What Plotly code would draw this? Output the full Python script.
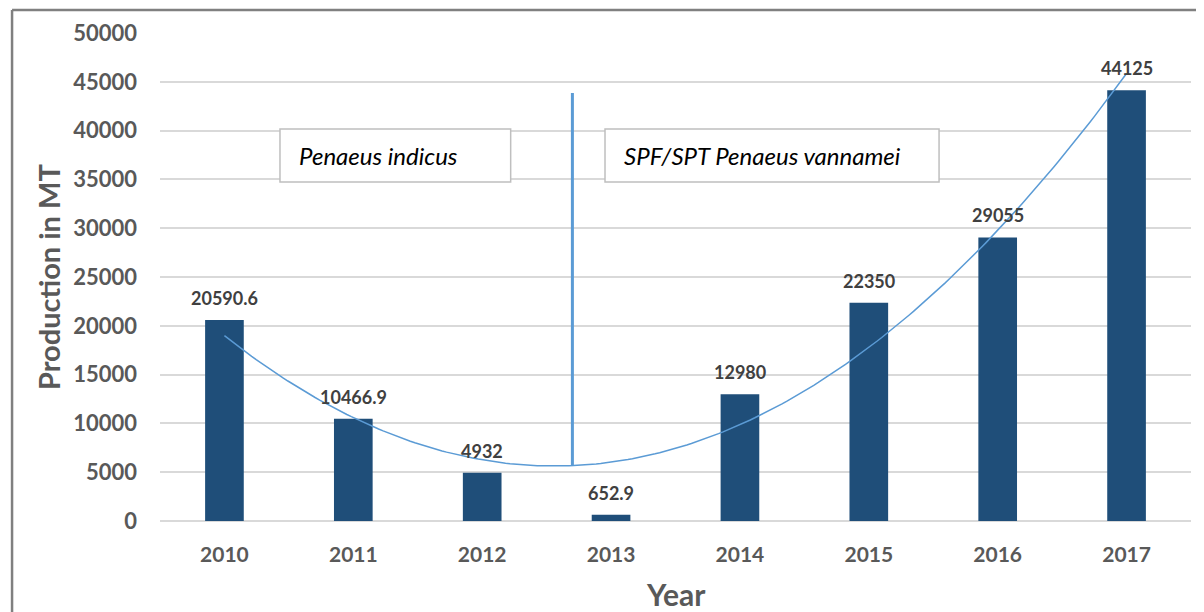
import numpy as np
import plotly.graph_objects as go

years = [2010, 2011, 2012, 2013, 2014, 2015, 2016, 2017]
production = [20590.6, 10466.9, 4932, 652.9, 12980, 22350, 29055, 44125]
labels = ["20590.6", "10466.9", "4932", "652.9", "12980", "22350", "29055", "44125"]
y_ticks = [0, 5000, 10000, 15000, 20000, 25000, 30000, 35000, 40000, 45000, 50000]
box_texts = ["Penaeus indicus", "SPF/SPT Penaeus vannamei"]

BAR = "#1F4E79"
TREND = "#5B9BD5"
GRID = "#D9D9D9"
TXT = "#595959"
FONT = "Lato"

# order-2 polynomial trendline (as Excel does) fitted to the data
xi = np.arange(len(years))
coef = np.polyfit(xi, production, 2)
xs = np.linspace(0, len(years) - 1, 200)
trend_y = np.polyval(coef, xs)
trend_x = years[0] + xs

fig = go.Figure()
fig.add_trace(go.Bar(x=years, y=production, width=0.30,
                     marker=dict(color=BAR, line=dict(width=0)),
                     hoverinfo="x+y"))
fig.add_trace(go.Scatter(x=trend_x, y=trend_y, mode="lines",
                         line=dict(color=TREND, width=1.5), hoverinfo="skip"))

# data labels
for yr, v, t in zip(years, production, labels):
    fig.add_annotation(x=yr, y=v, text=t, showarrow=False, yshift=22,
                       font=dict(family=FONT, size=18, color="#404040", weight="bold"))

# divider line between the two species
split_x = 2012.7
split_bottom = float(np.polyval(coef, split_x - years[0]))
fig.add_shape(type="line", xref="x", yref="y", x0=split_x, x1=split_x,
              y0=split_bottom, y1=43850, line=dict(color=TREND, width=3))

# text boxes
boxes = [(2010.431, 2012.221), (2012.953, 2015.545)]
for (bx0, bx1), t in zip(boxes, box_texts):
    fig.add_shape(type="rect", xref="x", yref="y", x0=bx0, x1=bx1, y0=34730, y1=40160,
                  line=dict(color="#BFBFBF", width=1.5), fillcolor="white", layer="above")
    fig.add_annotation(x=bx0 + 0.13, y=37450, text="<i>" + t + "</i>", showarrow=False,
                       xanchor="left", yanchor="middle",
                       font=dict(family=FONT, size=24, color="#000000"))

# axis titles
fig.add_annotation(xref="paper", yref="paper", x=-0.1086, y=0.5, text="<b>Production in MT</b>",
                   textangle=-90, showarrow=False, xanchor="center", yanchor="middle",
                   font=dict(family=FONT, size=29, color=TXT))
fig.add_annotation(xref="paper", yref="paper", x=0.5, y=-0.1496, text="<b>Year</b>",
                   showarrow=False, xanchor="center", yanchor="middle",
                   font=dict(family=FONT, size=30, color=TXT))

# outer frame (top and left)
fig.add_shape(type="line", xref="paper", yref="paper", x0=-0.1435, x1=1.05, y0=1.047, y1=1.047,
              line=dict(color="#808080", width=2.5))
fig.add_shape(type="line", xref="paper", yref="paper", x0=-0.1435, x1=-0.1435, y0=1.047, y1=-0.2,
              line=dict(color="#808080", width=2.5))

# page body has an 8px margin, so the figure is offset by (8, 8)
fig.update_layout(
    width=1196, height=604,
    margin=dict(l=152, r=13, t=25, b=91),
    paper_bgcolor="white", plot_bgcolor="white",
    showlegend=False,
    font=dict(family=FONT, color=TXT),
    xaxis=dict(range=[2009.5, 2017.5], tickmode="array", tickvals=years,
               ticktext=[str(y) for y in years], showgrid=False, showline=False,
               ticks="", ticklabelstandoff=19,
               tickfont=dict(family=FONT, size=21, color=TXT, weight="bold")),
    yaxis=dict(range=[0, 50000], tickmode="array", tickvals=y_ticks,
               ticktext=[str(v) for v in y_ticks], showgrid=True, gridcolor=GRID, gridwidth=1.5,
               zeroline=True, zerolinecolor=GRID, zerolinewidth=1.5, showline=False,
               ticks="", ticklabelstandoff=22,
               tickfont=dict(family=FONT, size=22, color=TXT, weight="bold")),
)

fig.write_html("out.html")
